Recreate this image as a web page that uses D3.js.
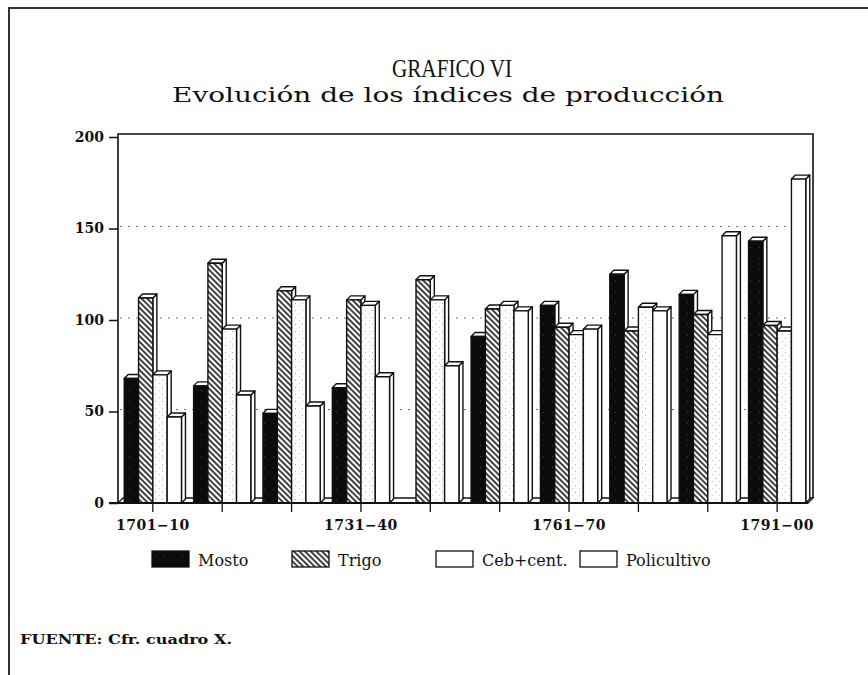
<!DOCTYPE html>
<html lang="es">
<head>
<meta charset="UTF-8">
<title>GRAFICO VI</title>
<script src="https://d3js.org/d3.v7.min.js"></script>
<style>
    body { margin: 0; padding: 0; background: #fff; }
    svg { display: block; }
    .tick text { font-family: "DejaVu Serif", serif; font-weight: bold; font-size: 14px; fill: #111; }
</style>
</head>
<body>
<svg id="chart" width="868" height="675"></svg>
<script>
// data (production indices per decade)
const decades = ["1701-10", "1711-20", "1721-30", "1731-40", "1741-50",
                 "1751-60", "1761-70", "1771-80", "1781-90", "1791-00"];
const series = ["Mosto", "Trigo", "Ceb+cent.", "Policultivo"];
const mosto = [68, 64, 49, 63, 0, 91, 108, 125, 114, 143];
const trigo = [112, 131, 116, 111, 122, 106, 96, 94, 103, 97];
const ceb   = [70, 95, 111, 108, 111, 108, 92, 107, 92, 94];
const poli  = [47, 59, 53, 69, 75, 105, 95, 105, 146, 177];
const yTicks = [0, 50, 100, 150, 200];
const gridTicks = [50, 100, 150];
const labelledDecades = ["1701-10", "1731-40", "1761-70", "1791-00"];

const values = [mosto, trigo, ceb, poli];
const fills = ["url(#mosto)", "url(#trigo)", "url(#ceb)", "#fff"];

const svg = d3.select("#chart");
const depth = {dx: 4, dy: -4};

// patterns
const defs = svg.append("defs");
const pm = defs.append("pattern").attr("id", "mosto")
    .attr("patternUnits", "userSpaceOnUse").attr("width", 9).attr("height", 11);
pm.append("rect").attr("width", 9).attr("height", 11).attr("fill", "#0b0b0b");
pm.append("rect").attr("x", 3).attr("y", 5).attr("width", 1).attr("height", 1).attr("fill", "#444");

const pt = defs.append("pattern").attr("id", "trigo")
    .attr("patternUnits", "userSpaceOnUse").attr("width", 4).attr("height", 4)
    .attr("patternTransform", "rotate(-45)");
pt.append("rect").attr("width", 4).attr("height", 4).attr("fill", "#fff");
pt.append("line").attr("x1", 1).attr("y1", 0).attr("x2", 1).attr("y2", 4)
    .attr("stroke", "#111").attr("stroke-width", 1.6);

const pc = defs.append("pattern").attr("id", "ceb")
    .attr("patternUnits", "userSpaceOnUse").attr("width", 7).attr("height", 7);
pc.append("rect").attr("width", 7).attr("height", 7).attr("fill", "#fff");
pc.append("rect").attr("x", 1).attr("y", 2).attr("width", 1).attr("height", 1).attr("fill", "#aaa");
pc.append("rect").attr("x", 5).attr("y", 5).attr("width", 1).attr("height", 1).attr("fill", "#c4c4c4");

// page frame
svg.append("path")
    .attr("d", "M9,675 L9,8 L868,8")
    .attr("fill", "none").attr("stroke", "#333").attr("stroke-width", 2);

// titles
svg.append("text").attr("x", 452).attr("y", 77).attr("text-anchor", "middle")
    .attr("font-family", "Liberation Serif, serif").attr("font-size", 25).attr("fill", "#111")
    .attr("textLength", 120).attr("lengthAdjust", "spacingAndGlyphs")
    .text("GRAFICO VI");
svg.append("text").attr("x", 448).attr("y", 102).attr("text-anchor", "middle")
    .attr("font-family", "DejaVu Serif, serif").attr("font-size", 21).attr("fill", "#111")
    .attr("textLength", 552).attr("lengthAdjust", "spacingAndGlyphs")
    .text("Evolución de los índices de producción");

// scales
const x = d3.scaleBand().domain(decades).range([118, 812])
    .paddingInner(0.175).paddingOuter(0.09);
const xs = d3.scaleBand().domain(series).range([0, x.bandwidth()]);
const y = d3.scaleLinear().domain([0, 200]).range([503, 137]);

const wallL = 118, wallR = 813, wallT = 134, floorBack = 498, base = y(0);

// back wall
svg.append("path")
    .attr("d", `M${wallL},${base} L${wallL},${wallT} L${wallR},${wallT} L${wallR},${floorBack}`)
    .attr("fill", "none").attr("stroke", "#111").attr("stroke-width", 1.6);

// dotted gridlines
svg.append("g").selectAll("line").data(gridTicks).join("line")
    .attr("x1", wallL + 2).attr("x2", wallR - 2)
    .attr("y1", d => y(d) - 2).attr("y2", d => y(d) - 2)
    .attr("stroke", "#777").attr("stroke-width", 1).attr("stroke-dasharray", "2,6");

// floor slab
svg.append("path")
    .attr("d", `M${wallL},${base} L${wallR - 5},${base} L${wallR},${floorBack} L${wallL + 5},${floorBack} Z`)
    .attr("fill", "#fff").attr("stroke", "#111").attr("stroke-width", 1.3);

// bars
const bars = [];
decades.forEach((dec, i) => {
    series.forEach((s, j) => bars.push({dec, s, j, v: values[j][i]}));
});

const barG = svg.append("g");
bars.filter(d => d.v > 0).forEach(d => {
    const x0 = x(d.dec) + xs(d.s), w = xs.bandwidth();
    const y0 = y(d.v), h = base - y0;
    const g = barG.append("g").attr("stroke", "#111").attr("stroke-width", 1.4)
        .attr("stroke-linejoin", "round");
    // side face
    g.append("path")
        .attr("d", `M${x0 + w},${y0} L${x0 + w + depth.dx},${y0 + depth.dy} L${x0 + w + depth.dx},${base + depth.dy} L${x0 + w},${base} Z`)
        .attr("fill", "#fff");
    // top face
    g.append("path")
        .attr("d", `M${x0},${y0} L${x0 + depth.dx},${y0 + depth.dy} L${x0 + w + depth.dx},${y0 + depth.dy} L${x0 + w},${y0} Z`)
        .attr("fill", "#fff");
    // front face
    g.append("rect").attr("x", x0).attr("y", y0).attr("width", w).attr("height", h)
        .attr("fill", fills[d.j]);
});

// front baseline
svg.append("line").attr("x1", 109).attr("x2", wallR - 5).attr("y1", base).attr("y2", base)
    .attr("stroke", "#111").attr("stroke-width", 1.8);

// axes
const yAxis = svg.append("g").attr("transform", `translate(${wallL},0)`)
    .call(d3.axisLeft(y).tickValues(yTicks).tickSize(9).tickPadding(5));
yAxis.select(".domain").remove();
yAxis.selectAll(".tick line").attr("stroke", "#111").attr("stroke-width", 1.5);

const xAxis = svg.append("g").attr("transform", `translate(0,${base})`)
    .call(d3.axisBottom(x).tickSize(9).tickPadding(8)
        .tickFormat(d => labelledDecades.includes(d) ? d.replace("-", "\u2212") : ""));
xAxis.select(".domain").remove();
xAxis.selectAll(".tick line").attr("stroke", "#111").attr("stroke-width", 1.3);
xAxis.selectAll(".tick text").attr("font-size", 15).attr("letter-spacing", 0.5);

// legend
const legendX = [152, 292, 436, 580];
const legendFill = ["url(#mosto)", "url(#trigo)", "#fff", "#fff"];
const leg = svg.append("g").selectAll("g").data(series).join("g")
    .attr("transform", (d, i) => `translate(${legendX[i]},551)`);
leg.append("rect").attr("width", 37).attr("height", 16)
    .attr("fill", (d, i) => legendFill[i]).attr("stroke", "#111").attr("stroke-width", 1.3);
leg.append("text").attr("x", 46).attr("y", 15)
    .attr("font-family", "DejaVu Serif, serif").attr("font-size", 16).attr("fill", "#111")
    .text(d => d);

// source note
svg.append("text").attr("x", 20).attr("y", 644)
    .attr("font-family", "DejaVu Serif, serif").attr("font-weight", "bold")
    .attr("font-size", 13).attr("fill", "#111")
    .attr("textLength", 212).attr("lengthAdjust", "spacingAndGlyphs")
    .text("FUENTE: Cfr. cuadro X.");
</script>
</body>
</html>
